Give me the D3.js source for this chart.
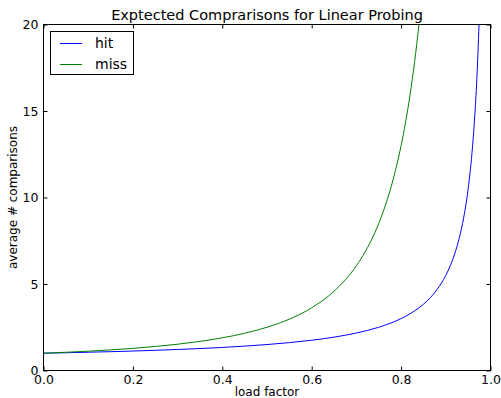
<!DOCTYPE html>
<html><head><meta charset="utf-8">
<script src="https://cdn.jsdelivr.net/npm/d3@7"></script>
<style>body{margin:0;background:#fff}svg{display:block}text{font-family:"DejaVu Sans",sans-serif;fill:#000}</style>
</head><body><svg id="c" width="501" height="398"></svg>
<script>
const hitX = [0,0.05,0.1,0.15,0.2,0.25,0.3,0.35,0.4,0.45,0.5,0.55,0.6,0.65,0.7,0.75,0.8,0.82,0.84,0.86,0.88,0.9,0.91,0.92,0.93,0.94,0.95,0.955,0.96,0.965,0.97,0.975];
const hitY = [1,1.026,1.056,1.088,1.125,1.167,1.214,1.269,1.333,1.409,1.5,1.611,1.75,1.929,2.167,2.5,3,3.278,3.625,4.071,4.667,5.5,6.056,6.75,7.643,8.833,10.5,11.61,13,14.79,17.17,20.5];
const missX = [0,0.05,0.1,0.15,0.2,0.25,0.3,0.35,0.4,0.45,0.5,0.55,0.6,0.65,0.7,0.72,0.74,0.76,0.78,0.8,0.81,0.82,0.83,0.84,0.845];
const missY = [1,1.054,1.117,1.192,1.281,1.389,1.520,1.683,1.889,2.153,2.5,2.969,3.625,4.582,6.056,6.878,7.896,9.181,10.83,13,14.35,15.93,17.80,20.03,21.31];
const xTicks = [0,0.2,0.4,0.6,0.8,1.0];
const yTicks = [0,5,10,15,20];
const seriesNames = ["hit","miss"];
const seriesColors = ["#0000ff","#008000"];

const svg = d3.select("#c");
const m = {l:43.5,r:490.5,t:24.5,b:370.5};
const x = d3.scaleLinear().domain([0,1]).range([m.l,m.r]);
const y = d3.scaleLinear().domain([0,20]).range([m.b,m.t]);

svg.append("defs").append("clipPath").attr("id","clip").append("rect")
  .attr("x",m.l).attr("y",m.t).attr("width",m.r-m.l).attr("height",m.b-m.t);

const line = d3.line().x(d=>x(d[0])).y(d=>y(d[1])).curve(d3.curveMonotoneX);
const series = [d3.zip(hitX,hitY), d3.zip(missX,missY)];
series.forEach((s,i)=>{
  svg.append("path").attr("d",line(s)).attr("fill","none").attr("stroke",seriesColors[i])
    .attr("stroke-width",1).attr("clip-path","url(#clip)");
});

// axes with inward ticks
const tl = 4;
const fmtX = d3.format(".1f");
const gxb = svg.append("g").attr("transform",`translate(0,${m.b})`)
  .call(d3.axisBottom(x).tickValues(xTicks).tickSizeInner(-tl).tickSizeOuter(0).tickFormat(fmtX));
const gxt = svg.append("g").attr("transform",`translate(0,${m.t})`)
  .call(d3.axisTop(x).tickValues(xTicks).tickSizeInner(-tl).tickSizeOuter(0).tickFormat(""));
const gyl = svg.append("g").attr("transform",`translate(${m.l},0)`)
  .call(d3.axisLeft(y).tickValues(yTicks).tickSizeInner(-tl).tickSizeOuter(0).tickPadding(4+tl).tickFormat(d3.format("d")));
const gyr = svg.append("g").attr("transform",`translate(${m.r},0)`)
  .call(d3.axisRight(y).tickValues(yTicks).tickSizeInner(-tl).tickSizeOuter(0).tickFormat(""));
[gxb,gxt,gyl,gyr].forEach(g=>{
  g.select(".domain").remove();
  g.selectAll("line").attr("stroke","#000");
  g.selectAll("text").attr("font-size",12.5).attr("font-family","DejaVu Sans").attr("fill","#000");
});
gxb.selectAll("text").attr("y",9).attr("dy","0.35em");
gyl.selectAll("text").attr("x",-5);
svg.append("rect").attr("x",m.l).attr("y",m.t).attr("width",m.r-m.l).attr("height",m.b-m.t)
  .attr("fill","none").attr("stroke","#000").attr("stroke-width",1);

svg.append("text").attr("x",(m.l+m.r)/2).attr("y",20).attr("text-anchor","middle")
  .attr("font-size",14.5).text("Exptected Comprarisons for Linear Probing");
svg.append("text").attr("x",(m.l+m.r)/2).attr("y",392).attr("dy","0.35em").attr("text-anchor","middle")
  .attr("font-size",12).text("load factor");
svg.append("text").attr("transform",`translate(13,${(m.t+m.b)/2}) rotate(-90)`).attr("dy","0.35em").attr("text-anchor","middle")
  .attr("font-size",12).text("average # comparisons");

// legend
const lg = svg.append("g");
lg.append("rect").attr("x",50.5).attr("y",31.5).attr("width",83).attr("height",43)
  .attr("fill","#fff").attr("stroke","#000").attr("stroke-width",1);
seriesNames.forEach((n,i)=>{
  const yy = 43.5 + i*21;
  lg.append("line").attr("x1",60).attr("x2",82).attr("y1",yy).attr("y2",yy)
    .attr("stroke",seriesColors[i]).attr("stroke-width",1);
  lg.append("text").attr("x",95).attr("y",yy).attr("dy","0.35em").attr("font-size",14).text(n);
});
</script></body></html>
